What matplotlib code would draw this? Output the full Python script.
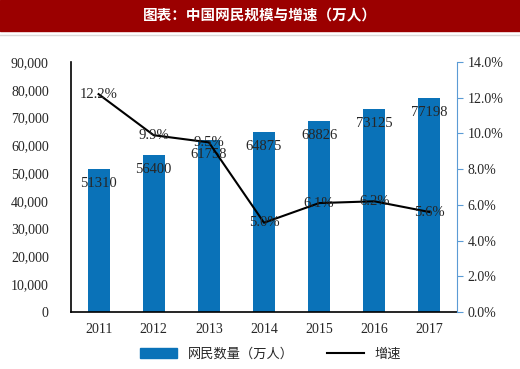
import matplotlib
matplotlib.use("Agg")
import matplotlib.pyplot as plt
from matplotlib.patches import Rectangle
from matplotlib.lines import Line2D

plt.rcParams['font.family'] = ['Liberation Serif', 'Noto Sans CJK SC', 'DejaVu Sans']

years = ['2011', '2012', '2013', '2014', '2015', '2016', '2017']
netizens = [51310, 56400, 61758, 64875, 68826, 73125, 77198]
growth = [12.2, 9.9, 9.5, 5.0, 6.1, 6.2, 5.6]

bar_color = '#0A72B8'
right_color = '#5B9BD5'
txt = '#262626'

fig = plt.figure(figsize=(5.2, 3.69), dpi=100)

# title bar
fig.patches.append(Rectangle((0.0, 1 - 31 / 369), 1.0, 31 / 369, transform=fig.transFigure,
                             color='#9B0000', zorder=0))
fig.text(0.5, 1 - 15 / 369, '图表：中国网民规模与增速（万人）', color='white', ha='center', va='center',
         fontsize=10.5, fontweight='bold', family=['Noto Sans CJK SC'])
fig.lines.append(Line2D([0, 1], [1 - 35 / 369, 1 - 35 / 369], transform=fig.transFigure,
                        color='#D9D9D9', lw=1))

ax = fig.add_axes([71 / 520, 1 - 312 / 369, 386 / 520, 250 / 369])
x = range(len(years))
ax.bar(x, netizens, width=0.4, color=bar_color, zorder=2)
ax.set_ylim(0, 90000)
ax.set_xlim(-0.5, len(years) - 0.5)
ax.set_yticks(range(0, 90001, 10000))
ax.set_yticklabels(['{:,}'.format(v) for v in range(0, 90001, 10000)], fontsize=10, color=txt)
ax.set_xticks(list(x))
ax.set_xticklabels(years, fontsize=10, color=txt)
ax.tick_params(axis='x', length=0, pad=8)
ax.tick_params(axis='y', length=0, pad=16)
ax.spines['top'].set_visible(False)
ax.spines['right'].set_visible(False)
ax.spines['left'].set_linewidth(1.2)
ax.spines['bottom'].set_linewidth(1.2)
for i, v in enumerate(netizens):
    ax.text(i, v - 5200, str(v), ha='center', va='center', fontsize=10.5, color=txt, zorder=4)

ax2 = ax.twinx()
ax2.plot(list(x), growth, color='black', lw=1.5, zorder=3)
ax2.set_ylim(0, 14)
ax2.set_yticks([0, 2, 4, 6, 8, 10, 12, 14])
ax2.set_yticklabels(['{:.1f}%'.format(v) for v in [0, 2, 4, 6, 8, 10, 12, 14]], fontsize=10, color=txt)
ax2.tick_params(axis='y', length=4, direction='out', color=right_color)
ax2.spines['top'].set_visible(False)
ax2.spines['left'].set_visible(False)
ax2.spines['bottom'].set_visible(False)
ax2.spines['right'].set_color(right_color)
for i, g in enumerate(growth):
    ax2.text(i, g, '{:.1f}%'.format(g), ha='center', va='center', fontsize=10.5, color=txt, zorder=4)

handles = [Rectangle((0, 0), 1, 1, color=bar_color), Line2D([], [], color='black', lw=1.5)]
fig.legend(handles, ['网民数量（万人）', '增速'], loc='center', bbox_to_anchor=(0.52, 1 - 354 / 369),
           ncol=2, frameon=False, prop={'family': ['Noto Sans CJK SC'], 'size': 9.5},
           handlelength=2.8, columnspacing=2.5, labelcolor=txt)

fig.savefig('out.png', dpi=100)
